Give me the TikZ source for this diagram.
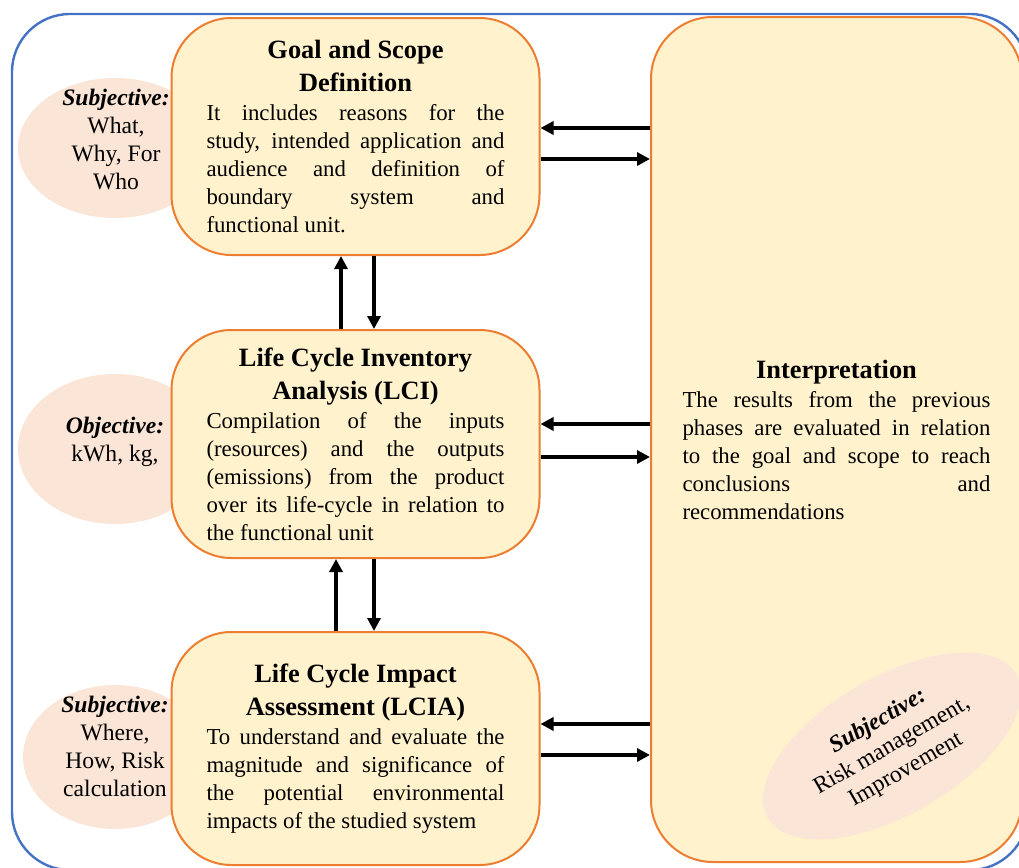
\documentclass[tikz,border=0pt]{standalone}
\usepackage{fontspec}
\setmainfont{Liberation Serif}
\usetikzlibrary{positioning,shapes.geometric,arrows.meta}
\definecolor{frameblue}{HTML}{4472C4}
\definecolor{boxorange}{HTML}{ED7D31}
\definecolor{boxfill}{HTML}{FFF2CC}
\definecolor{bubblefill}{HTML}{FBE5D6}
\tikzstyle{phase} = [draw=boxorange, fill=boxfill, line width=1pt, rounded corners=30pt, minimum width=184pt, inner sep=0pt, text width=149pt, align=justify, font=\fontsize{11.4}{14}\selectfont]
\tikzstyle{bubble} = [ellipse, fill=bubblefill, inner sep=0pt]
\tikzstyle{bubbletext} = [align=center, font=\fontsize{11.8}{14}\selectfont]
\tikzstyle{arr} = [line width=2.2pt, -{Triangle[length=6.5pt,width=6.5pt]}]
\newcommand{\phasetitle}[1]{{\centering\bfseries\fontsize{13.2}{16.5}\selectfont #1\par}\vspace{0.5pt}}
\newcommand{\subj}[1]{\textbf{\textit{#1}}}

\begin{document}
\begin{tikzpicture}[x=0.5pt, y=-0.5pt]
    \useasboundingbox (0,0) rectangle (1019,868);
    \draw [frameblue, line width=1.2pt, rounded corners=29pt] (12,14) rectangle (1028,870);

    % side notes, behind the boxes
    \node [bubble, minimum width=97pt, minimum height=70pt] (whatbub) at (115,148) {};
    \node [bubble, minimum width=97pt, minimum height=75pt] (kwhbub) at (115,449) {};
    \node [bubble, minimum width=92pt, minimum height=72pt] (wherebub) at (115,757) {};
    \node [bubbletext] (whattext) at (116,139) {\subj{Subjective:}\\What,\\Why, For\\Who};
    \node [bubbletext] (kwhtext) at (115,442) {\subj{Objective:}\\kWh, kg,};
    \node [bubbletext] (wheretext) at (115,746) {\subj{Subjective:}\\Where,\\How, Risk\\calculation};

    \node [phase, minimum height=118.5pt] (goal) at (355.5,136.5) {\phasetitle{Goal and Scope\\Definition}
        It includes reasons for the\linebreak study, intended application and\linebreak audience and definition of\linebreak boundary system and\linebreak functional unit.};
    \node [phase, minimum height=114pt, below=36.5pt of goal] (lci) {\phasetitle{Life Cycle Inventory\\Analysis (LCI)}
        Compilation of the inputs\linebreak (resources) and the outputs\linebreak (emissions) from the product\linebreak over its life-cycle in relation to\linebreak the functional unit};
    \node [phase, minimum height=116.5pt, below=36pt of lci] (lcia) {\phasetitle{Life Cycle Impact\\Assessment (LCIA)}
        To understand and evaluate the\linebreak magnitude and significance of\linebreak the potential environmental\linebreak impacts of the studied system};
    \node [phase, minimum width=185.5pt, minimum height=422.5pt, rounded corners=31pt, text width=154pt] (interp) at (836.5,439.5) {\phasetitle{Interpretation}
        The results from the previous\linebreak phases are evaluated in relation\linebreak to the goal and scope to reach\linebreak conclusions and\linebreak recommendations};

    \node [bubble, minimum width=143.5pt, minimum height=69pt, rotate=30, align=center, font=\fontsize{11.8}{14}\selectfont] (riskbub) at (892,746) {\subj{Subjective:}\\Risk management,\\Improvement};

    % arrows to and from the interpretation
    \draw [arr] (interp.west |- 0,128) -- (goal.east |- 0,128);
    \draw [arr] (goal.east |- 0,159) -- (interp.west |- 0,159);
    \draw [arr] (interp.west |- 0,424) -- (lci.east |- 0,424);
    \draw [arr] (lci.east |- 0,457) -- (interp.west |- 0,457);
    \draw [arr] (interp.west |- 0,724) -- (lcia.east |- 0,724);
    \draw [arr] (lcia.east |- 0,755) -- (interp.west |- 0,755);

    % arrows between the phases
    \draw [arr] (lci.north -| 341,0) -- (goal.south -| 341,0);
    \draw [arr] (goal.south -| 374,0) -- (lci.north -| 374,0);
    \draw [arr] (lcia.north -| 336,0) -- (lci.south -| 336,0);
    \draw [arr] (lci.south -| 374,0) -- (lcia.north -| 374,0);
\end{tikzpicture}
\end{document}
